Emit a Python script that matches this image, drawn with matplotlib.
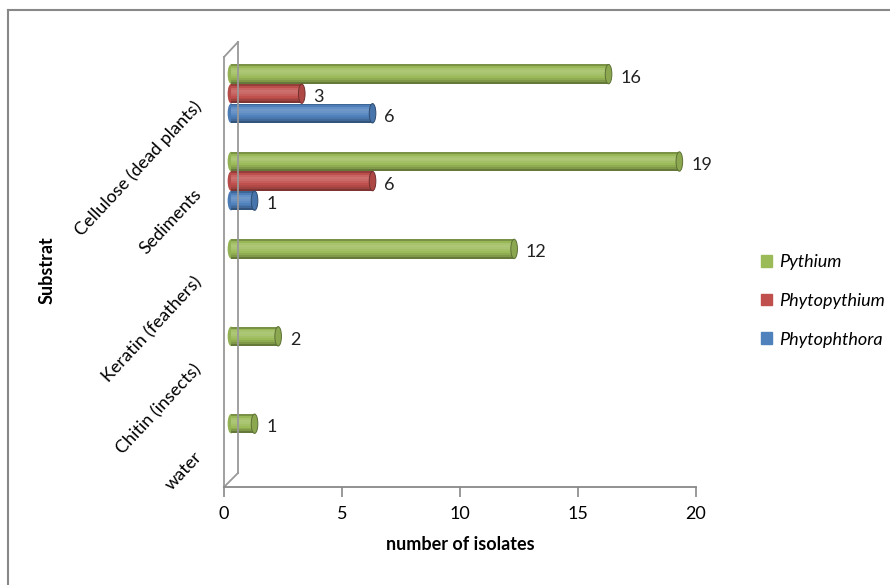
# Horizontal cylinder bar chart: isolates per substrate
import matplotlib.pyplot as plt
from matplotlib.lines import Line2D
from matplotlib.patches import Ellipse
from matplotlib.transforms import ScaledTranslation
import numpy as np

# data
substrates = ['Cellulose (dead plants)', 'Sediments', 'Keratin (feathers)',
              'Chitin (insects)', 'water']
series_names = ['Pythium', 'Phytopythium', 'Phytophthora']
pythium = [16, 19, 12, 2, 1]
phytopythium = [3, 6, 0, 0, 0]
phytophthora = [6, 1, 0, 0, 0]
x_ticks = [0, 5, 10, 15, 20]

colors = ['#9BBB59', '#C0504D', '#4F81BD']
font = ['Lato', 'DejaVu Sans']
plt.rcParams['font.family'] = font


def blend(c, f):
    # f > 0 mixes with white, f < 0 mixes with black
    rgb = np.array(plt.matplotlib.colors.to_rgb(c))
    if f >= 0:
        return tuple(rgb + (1 - rgb) * f)
    return tuple(rgb * (1 + f))


fig = plt.figure(figsize=(8.9, 5.85), dpi=100)
ax = fig.add_axes([224 / 890, 98 / 585, 472 / 890, 437 / 585])

# chart border (top and left only visible)
fig.add_artist(Line2D([8 / 890, 1], [1 - 10 / 585, 1 - 10 / 585], color='#888888', lw=1.5))
fig.add_artist(Line2D([8 / 890, 8 / 890], [0, 1 - 10 / 585], color='#888888', lw=1.5))

bar_h = 0.222
step = 0.224
offsets = [-step, 0, step]
shift = ax.transData + ScaledTranslation(5 / 72, 0, fig.dpi_scale_trans)
shades = [-0.22, -0.02, 0.12, 0.18, 0.15, 0.08, 0.0, -0.08, -0.18, -0.35]
ypos = np.arange(len(substrates))

for vals, col, off in zip([pythium, phytopythium, phytophthora], colors, offsets):
    for i, v in enumerate(vals):
        if v == 0:
            continue
        yc = ypos[i] + off
        top = yc - bar_h / 2
        strip = bar_h / len(shades)
        for k, f in enumerate(shades):
            ax.barh(top + strip * (k + 0.5), v, height=strip * 1.05, color=blend(col, f),
                    lw=0, transform=shift, zorder=2)
        # rounded start and end of the cylinder
        ax.add_patch(Ellipse((0, yc), 0.28, bar_h, facecolor=blend(col, -0.05),
                             lw=0, transform=shift, zorder=1))
        cap = Ellipse((v, yc), 0.28, bar_h, facecolor=blend(col, -0.1),
                      edgecolor=blend(col, -0.4), lw=0.7, transform=shift, zorder=3)
        ax.add_patch(cap)
        ax.text(v + 0.5, yc + 0.04, str(v), transform=shift, va='center', ha='left',
                fontsize=13, color='#222222')

ax.set_xlim(0, 20)
ax.set_ylim(len(substrates) - 0.5, -0.5)
ax.set_xticks(x_ticks)
ax.set_xticklabels([str(t) for t in x_ticks], fontsize=13)
ax.tick_params(axis='x', length=7, color='#888888', width=1.2, pad=7)
ax.set_yticks(ypos + 0.12)
ax.set_yticklabels(substrates, rotation=47, ha='right', va='center',
                   rotation_mode='anchor', fontsize=13)
ax.tick_params(axis='y', length=0, pad=18)
for s in ['top', 'right', 'left']:
    ax.spines[s].set_visible(False)
ax.spines['bottom'].set_color('#888888')
ax.spines['bottom'].set_linewidth(1.3)

# 3D wall on the left
wall = dict(color='#999999', lw=1.3, transform=ax.transAxes, clip_on=False)
bx = 14 / 472
ax.add_line(Line2D([0, 0], [0, 1 - 7 / 437], **wall))
ax.add_line(Line2D([bx, bx], [14 / 437, 1 + 8 / 437], **wall))
ax.add_line(Line2D([0, bx], [1 - 7 / 437, 1 + 8 / 437], **wall))
ax.add_line(Line2D([0, bx], [0, 14 / 437], **wall))

ax.set_xlabel('number of isolates', fontsize=13, fontweight='bold', labelpad=10)
fig.text(47 / 890, 1 - 270 / 585, 'Substrat', rotation=90, fontsize=13,
         fontweight='bold', ha='center', va='center')

# legend
handles = [plt.Rectangle((0, 0), 1, 1, color=c) for c in colors]
leg = fig.legend(handles, series_names, loc='center left',
                 bbox_to_anchor=(745 / 890, 1 - 301 / 585), frameon=False,
                 handlelength=0.6, handleheight=0.6, handletextpad=0.4,
                 labelspacing=1.25, prop={'style': 'italic', 'size': 13, 'family': font})

plt.savefig('out.png', dpi=100)
